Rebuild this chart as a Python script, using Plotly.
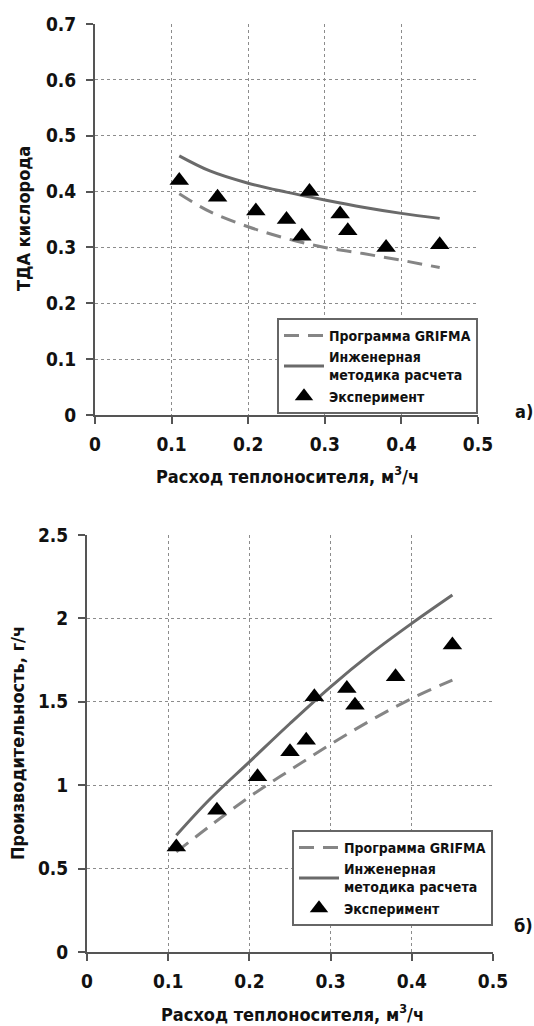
import plotly.graph_objects as go

# Experimental points: coolant flow rate, m3/h
flow_exp = [0.11, 0.16, 0.21, 0.25, 0.27, 0.28, 0.32, 0.33, 0.38, 0.45]
tda_exp = [0.42, 0.39, 0.365, 0.35, 0.32, 0.40, 0.36, 0.33, 0.30, 0.305]
prod_exp = [0.63, 0.85, 1.05, 1.20, 1.27, 1.53, 1.58, 1.48, 1.65, 1.84]

# Calculated curves
flow_calc = [0.11, 0.15, 0.2, 0.25, 0.3, 0.35, 0.4, 0.45]
tda_grifma = [0.396, 0.364, 0.337, 0.316, 0.300, 0.289, 0.277, 0.264]
tda_eng = [0.464, 0.437, 0.415, 0.399, 0.385, 0.372, 0.361, 0.352]
prod_grifma = [0.60, 0.75, 0.93, 1.09, 1.245, 1.39, 1.52, 1.63]
prod_eng = [0.70, 0.91, 1.14, 1.37, 1.59, 1.79, 1.97, 2.14]

x_ticks = [0, 0.1, 0.2, 0.3, 0.4, 0.5]
tda_ticks = [0, 0.1, 0.2, 0.3, 0.4, 0.5, 0.6, 0.7]
prod_ticks = [0, 0.5, 1, 1.5, 2, 2.5]

name_grifma = "Программа GRIFMA"
name_eng = "Инженерная<br>методика расчета"
name_exp = "Эксперимент"
x_title = "Расход теплоносителя, м<sup>3</sup>/ч"

FONT = "Liberation Sans Narrow, Arial Narrow, DejaVu Sans Condensed, Liberation Sans, sans-serif"
DASH_COLOR = "#858585"
SOLID_COLOR = "#6a6a6a"
AXIS_COLOR = "#555555"
GRID_COLOR = "#8c8c8c"

fig = go.Figure()

panels = [
    ("x", "y", "legend", tda_grifma, tda_eng, tda_exp),
    ("x2", "y2", "legend2", prod_grifma, prod_eng, prod_exp),
]
for xa, ya, lg, grifma, eng, exp in panels:
    fig.add_trace(go.Scatter(
        x=flow_calc, y=grifma, mode="lines", name=name_grifma,
        line=dict(color=DASH_COLOR, width=3, dash="15px,9px", shape="spline"),
        xaxis=xa, yaxis=ya, legend=lg))
    fig.add_trace(go.Scatter(
        x=flow_calc, y=eng, mode="lines", name=name_eng,
        line=dict(color=SOLID_COLOR, width=3, shape="spline"),
        xaxis=xa, yaxis=ya, legend=lg))
    fig.add_trace(go.Scatter(
        x=flow_exp, y=exp, mode="markers", name=name_exp,
        marker=dict(symbol="triangle-up", size=17, color="black"),
        xaxis=xa, yaxis=ya, legend=lg))


def x_axis(domain, anchor):
    return dict(
        domain=domain, anchor=anchor, range=[0, 0.5], tickvals=x_ticks,
        ticktext=[f"{v:g}" for v in x_ticks], automargin=False,
        showline=True, linecolor=AXIS_COLOR, linewidth=2, mirror=False,
        ticks="outside", ticklen=7, tickwidth=2, tickcolor=AXIS_COLOR,
        showgrid=True, gridcolor=GRID_COLOR, gridwidth=1, griddash="dot",
        zeroline=False, ticklabelstandoff=4,
        tickfont=dict(family=FONT, size=19, color="#111111", weight="bold"),
    )


def y_axis(domain, anchor, rng, ticks):
    return dict(
        domain=domain, anchor=anchor, range=rng, tickvals=ticks,
        ticktext=[f"{v:g}" for v in ticks], automargin=False,
        showline=True, linecolor=AXIS_COLOR, linewidth=2,
        ticks="outside", ticklen=7, tickwidth=2, tickcolor=AXIS_COLOR,
        showgrid=True, gridcolor=GRID_COLOR, gridwidth=1, griddash="dot",
        zeroline=False, ticklabelstandoff=6,
        tickfont=dict(family=FONT, size=19, color="#111111", weight="bold"),
    )


legend_style = dict(
    bgcolor="white", bordercolor="#666666", borderwidth=2,
    font=dict(family=FONT, size=14, color="#111111", weight="bold"),
    xanchor="right", yanchor="top", itemwidth=40, tracegroupgap=0,
)

W, H = 534, 1026
fig.update_layout(
    template="none",
    width=W, height=H, margin=dict(l=0, r=0, t=0, b=0, autoexpand=False),
    paper_bgcolor="white", plot_bgcolor="white",
    xaxis=x_axis([95 / W, 478 / W], "y"),
    yaxis=y_axis([1 - 415 / H, 1 - 24 / H], "x", [0, 0.7], tda_ticks),
    xaxis2=x_axis([87 / W, 493 / W], "y2"),
    yaxis2=y_axis([1 - 952 / H, 1 - 535 / H], "x2", [0, 2.5], prod_ticks),
    legend=dict(x=478 / W, y=1 - 318 / H, **legend_style),
    legend2=dict(x=493 / W, y=1 - 830 / H, **legend_style),
    showlegend=True,
)

title_font = dict(family=FONT, size=18, color="#111111", weight="bold")
annotations = [
    dict(text="ТДА кислорода", x=24 / W, y=1 - 219 / H, textangle=-90),
    dict(text="Производительность, г/ч", x=17 / W, y=1 - 743 / H, textangle=-90),
    dict(text=x_title, x=287 / W, y=1 - 475 / H, textangle=0),
    dict(text=x_title, x=292 / W, y=1 - 1013 / H, textangle=0),
    dict(text="а)", x=524 / W, y=1 - 411 / H, textangle=0),
    dict(text="б)", x=523 / W, y=1 - 925 / H, textangle=0),
]
for a in annotations:
    fig.add_annotation(xref="paper", yref="paper", showarrow=False,
                       xanchor="center", yanchor="middle", font=title_font, **a)

fig.write_html("out.html")
